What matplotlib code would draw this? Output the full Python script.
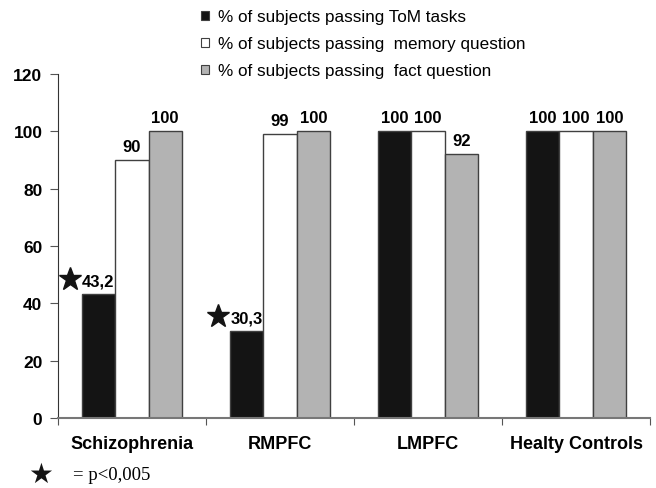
import numpy as np
import matplotlib.pyplot as plt
from matplotlib.patches import Patch

plt.rcParams['font.family'] = ['Liberation Sans', 'DejaVu Sans']

groups = ['Schizophrenia', 'RMPFC', 'LMPFC', 'Healty Controls']
series_names = ['% of subjects passing ToM tasks',
                '% of subjects passing  memory question',
                '% of subjects passing  fact question']
tom = [43.2, 30.3, 100, 100]
memory = [90, 99, 100, 100]
fact = [100, 100, 92, 100]
labels_tom = ['43,2', '30,3', '100', '100']
labels_memory = ['90', '99', '100', '100']
labels_fact = ['100', '100', '92', '100']
significant = [True, True, False, False]

colors = ['#141414', '#ffffff', '#b3b3b3']
edge = '#404040'

fig = plt.figure(figsize=(6.56, 4.89), dpi=100)
ax = fig.add_axes([0.088, 0.143, 0.903, 0.704])

x = np.arange(len(groups))
w = 0.226
all_vals = [tom, memory, fact]
all_labels = [labels_tom, labels_memory, labels_fact]
for i, (vals, labs) in enumerate(zip(all_vals, all_labels)):
    pos = x + (i - 1) * w
    ax.bar(pos, vals, width=w, color=colors[i], edgecolor=edge, linewidth=1.0)
    for j, (p, v, lab) in enumerate(zip(pos, vals, labs)):
        ax.text(p, v + 2.0, lab, ha='center', va='bottom',
                fontsize=12, fontweight='bold')
        if i == 0 and significant[j]:
            # significance star left of the value label
            ax.plot(p - 0.19, v + 5.3, marker='*', markersize=17,
                    color='#141414', clip_on=False)

ax.set_xlim(-0.5, 3.5)
ax.set_ylim(0, 120)
ax.set_yticks(range(0, 121, 20))
ax.set_xticks(np.arange(-0.5, 4.0, 1.0))
ax.set_xticklabels([])
ax.set_xticks(x, minor=True)
ax.set_xticklabels(groups, minor=True, fontsize=13, fontweight='bold')
ax.tick_params(axis='x', which='minor', length=0, pad=12)
ax.tick_params(axis='x', which='major', direction='out', length=5, color='#555555')
ax.tick_params(axis='y', direction='out', length=6, pad=5, labelsize=12.5,
               color='#555555')
for t in ax.get_yticklabels():
    t.set_fontweight('bold')
ax.spines['top'].set_visible(False)
ax.spines['right'].set_visible(False)
ax.spines['left'].set_color('#333333')
ax.spines['bottom'].set_color('#777777')
ax.spines['bottom'].set_linewidth(1.5)

handles = [Patch(facecolor=c, edgecolor=edge, linewidth=0.8) for c in colors]
fig.legend(handles, series_names, loc='upper left', bbox_to_anchor=(0.283, 1.01),
           frameon=False, fontsize=12.3, handlelength=0.45, handleheight=0.45,
           handletextpad=0.55, labelspacing=0.7)

fig.text(0.062, 0.028, '\u2605', fontsize=20, ha='center', va='center',
         family=['DejaVu Sans'], color='#141414')
fig.text(0.111, 0.028, '= p<0,005', fontsize=13.5, ha='left', va='center',
         family=['Liberation Serif', 'DejaVu Serif'])

fig.savefig('out.png', dpi=100)
